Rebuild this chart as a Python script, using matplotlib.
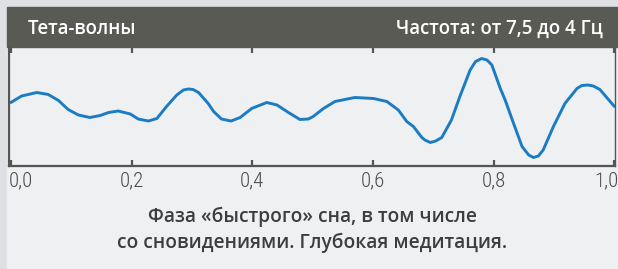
import matplotlib.pyplot as plt
from matplotlib.patches import Rectangle
from matplotlib.transforms import ScaledTranslation

# wave (x: 0..1, amplitude in arbitrary units)
wave_x = [0.000, 0.018, 0.043, 0.062, 0.079, 0.095, 0.112, 0.131, 0.148, 0.162,
          0.178, 0.198, 0.211, 0.228, 0.242, 0.258, 0.275, 0.286, 0.294, 0.302,
          0.311, 0.327, 0.336, 0.349, 0.365, 0.380, 0.399, 0.424, 0.441, 0.460,
          0.479, 0.493, 0.501, 0.518, 0.537, 0.570, 0.601, 0.623, 0.642, 0.656,
          0.667, 0.681, 0.686, 0.695, 0.704, 0.714, 0.730, 0.744, 0.761, 0.770,
          0.780, 0.789, 0.797, 0.811, 0.819, 0.833, 0.847, 0.858, 0.866, 0.874,
          0.882, 0.899, 0.918, 0.938, 0.946, 0.956, 0.965, 0.976, 1.000]
wave_y = [0.09, 0.22, 0.29, 0.25, 0.13, -0.05, -0.16, -0.21, -0.17, -0.11,
          -0.08, -0.14, -0.24, -0.28, -0.23, 0.01, 0.24, 0.34, 0.36, 0.35,
          0.29, 0.07, -0.09, -0.24, -0.28, -0.21, -0.03, 0.09, 0.04, -0.11,
          -0.25, -0.24, -0.19, -0.03, 0.11, 0.19, 0.17, 0.11, -0.06, -0.29,
          -0.39, -0.61, -0.66, -0.71, -0.68, -0.61, -0.26, 0.21, 0.74, 0.91,
          0.97, 0.94, 0.84, 0.37, 0.14, -0.33, -0.79, -0.96, -1.01, -0.98,
          -0.86, -0.39, 0.07, 0.37, 0.43, 0.44, 0.42, 0.35, 0.01]

ticks = [0.0, 0.2, 0.4, 0.6, 0.8, 1.0]
tick_labels = ["0,0", "0,2", "0,4", "0,6", "0,8", "1,0"]

title_left = "Тета-волны"
title_right = "Частота: от 7,5 до 4 Гц"
caption = "Фаза «быстрого» сна, в том числе\nсо сновидениями. Глубокая медитация."

W, H = 618, 269
fig = plt.figure(figsize=(W / 100, H / 100), dpi=100)
fig.patch.set_facecolor('#dfe0e3')

def fx(px):
    return px / W

def fy(py):
    return (H - py) / H

# card + dark header band
fig.patches.append(Rectangle((fx(7), 0), fx(611), fy(47), transform=fig.transFigure,
                             color='#eef0f2', zorder=-2))
fig.patches.append(Rectangle((fx(7), fy(47)), fx(611), 40 / H, transform=fig.transFigure,
                             color='#5a5a55', zorder=-1))

fig.text(fx(28), fy(33.5), title_left, color='white', fontsize=13.4,
         family='Open Sans', fontweight='semibold', ha='left', va='baseline')
fig.text(fx(603), fy(33.5), title_right, color='white', fontsize=13.4,
         family='Open Sans', fontweight='semibold', ha='right', va='baseline')

ax = fig.add_axes([fx(9), fy(166), fx(606), (166 - 47) / H])
ax.patch.set_alpha(0)
ax.plot(wave_x, wave_y, color='#1b7cc3', lw=2.1, solid_capstyle='round',
        solid_joinstyle='round')
ax.set_xlim(-0.003, 1.001)
ax.set_ylim(-1.18, 1.2)

for s in ['left', 'bottom', 'right']:
    ax.spines[s].set_color('#555555')
    ax.spines[s].set_linewidth(1.6)
ax.spines['right'].set_linewidth(1.0)
ax.spines['top'].set_visible(False)

ax.set_yticks([])
ax.set_xticks(ticks)
ax.set_xticklabels(tick_labels,
                   family=['Liberation Sans Narrow', 'Roboto Condensed',
                           'DejaVu Sans Condensed', 'Roboto'],
                   fontsize=15, fontweight='light', color='#4a4a4a')
ax.tick_params(axis='x', direction='in', length=4, width=1.6, color='#555555',
               top=True, bottom=True, pad=4)
labs = ax.get_xticklabels()
labs[0].set_ha('left')
labs[0].set_transform(labs[0].get_transform() + ScaledTranslation(-0.02, 0, fig.dpi_scale_trans))
labs[-1].set_ha('right')
labs[-1].set_transform(labs[-1].get_transform() + ScaledTranslation(0.04, 0, fig.dpi_scale_trans))

fig.text(fx(312.5), fy(230), caption, color='#3d3d3d', fontsize=13.8,
         family='Open Sans', fontweight='semibold', ha='center', va='center',
         linespacing=1.35)

fig.savefig('out.png', dpi=100, facecolor=fig.get_facecolor())
